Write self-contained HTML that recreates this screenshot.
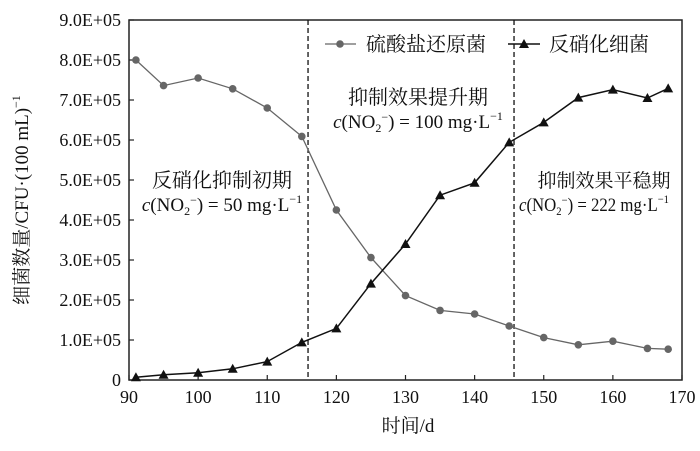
<!DOCTYPE html>
<html><head><meta charset="utf-8"><style>
html,body{margin:0;padding:0;background:#fff}
svg text{font-family:"Liberation Serif","Noto Serif CJK SC",serif;fill:#111}
.cjk{font-family:"Liberation Serif","Noto Serif CJK SC","Noto Sans CJK SC",serif}
</style></head><body>
<svg id="chart" width="700" height="446" viewBox="0 0 700 446" xmlns="http://www.w3.org/2000/svg">
<g id="axes"></g><g id="marks"></g><g id="labels"></g>
</svg>
<script>
const days = [91,95,100,105,110,115,120,125,130,135,140,145,150,155,160,165,168];
const srbValues = [8.0,7.36,7.55,7.28,6.80,6.09,4.25,3.06,2.11,1.74,1.65,1.35,1.06,0.88,0.97,0.79,0.77];
const dnbValues = [0.07,0.13,0.18,0.28,0.46,0.94,1.29,2.41,3.40,4.62,4.93,5.94,6.44,7.06,7.26,7.05,7.29];
const xTicks = [90,100,110,120,130,140,150,160,170];
const yTicks = [0,1,2,3,4,5,6,7,8,9];
const yTickLabels = ["0","1.0E+05","2.0E+05","3.0E+05","4.0E+05","5.0E+05","6.0E+05","7.0E+05","8.0E+05","9.0E+05"];
const phaseBounds = [115.9,145.7];

const L=129,R=682,T=20,B=380;
const xs=d=>L+(d-90)/(170-90)*(R-L);
const ys=v=>B-v/9*(B-T);
const NS="http://www.w3.org/2000/svg";
function mk(tag,attrs,parent,text){const e=document.createElementNS(NS,tag);for(const k in attrs)e.setAttribute(k,attrs[k]);if(text!==undefined)e.textContent=text;parent.appendChild(e);return e;}
const axes=document.getElementById('axes'),marks=document.getElementById('marks'),labels=document.getElementById('labels');

let frame=mk('rect',{x:L,y:T,width:R-L,height:B-T,fill:'none',stroke:'#222','stroke-width':1.5},axes);


xTicks.forEach(t=>{
  let ln=mk('line',{x1:xs(t),x2:xs(t),y1:B,y2:B-5,stroke:'#222','stroke-width':1.2},axes);
  
  
  let tx=mk('text',{x:xs(t),y:B+23,'text-anchor':'middle','font-size':18},axes,String(t));
  
  
});
yTicks.forEach((t,i)=>{
  let ln=mk('line',{x1:L,x2:L+5,y1:ys(t),y2:ys(t),stroke:'#222','stroke-width':1.2},axes);
  
  
  let tx=mk('text',{x:L-8,y:ys(t)+6,'text-anchor':'end','font-size':18},axes,yTickLabels[i]);
  
  
});
phaseBounds.forEach(p=>{
  let ln=mk('line',{x1:xs(p),x2:xs(p),y1:T,y2:B,stroke:'#111','stroke-width':1.3,'stroke-dasharray':'5,3'},axes);
  
  
});

let p1=mk('polyline',{points:days.map((d,i)=>xs(d)+','+ys(srbValues[i])).join(' '),fill:'none',stroke:'#666','stroke-width':1.3},marks);


days.forEach((d,i)=>{
  let c=mk('circle',{cx:xs(d),cy:ys(srbValues[i]),r:3.8,fill:'#666'},marks);
  
  
});
let p2=mk('polyline',{points:days.map((d,i)=>xs(d)+','+ys(dnbValues[i])).join(' '),fill:'none',stroke:'#111','stroke-width':1.5},marks);


function tri(x,y,s){return `${x},${y-s} ${x-s},${y+s*0.8} ${x+s},${y+s*0.8}`;}
days.forEach((d,i)=>{
  let t=mk('polygon',{points:tri(xs(d),ys(dnbValues[i]),5),fill:'#111'},marks);
  
  
});
</script>
<div style="position:absolute;left:0;top:0;width:700px;height:446px;pointer-events:none">
<svg width="700" height="446" xmlns="http://www.w3.org/2000/svg" style="position:absolute;left:0;top:0">
  <g>
    <line x1="325" y1="44" x2="356" y2="44" stroke="#666" stroke-width="1.3"/>
    <circle cx="340" cy="44" r="3.8" fill="#666"/>
    <text class="cjk" x="366" y="51" font-size="20">硫酸盐还原菌</text>
    <line x1="508" y1="44" x2="540" y2="44" stroke="#111" stroke-width="1.5"/>
    <polygon points="524,39 519,48 529,48" fill="#111"/>
    <text class="cjk" x="549" y="51" font-size="20">反硝化细菌</text>
  </g>
  <text class="cjk" x="222" y="187" font-size="20" text-anchor="middle">反硝化抑制初期</text>
  <text x="222" y="211" font-size="19" text-anchor="middle"><tspan font-style="italic">c</tspan>(NO<tspan font-size="12" dy="4">2</tspan><tspan font-size="12" dy="-11">−</tspan><tspan dy="7">) = 50 mg·L</tspan><tspan font-size="12" dy="-8">−1</tspan></text>
  <text class="cjk" x="418" y="104" font-size="20" text-anchor="middle">抑制效果提升期</text>
  <text x="418" y="128" font-size="19" text-anchor="middle"><tspan font-style="italic">c</tspan>(NO<tspan font-size="12" dy="4">2</tspan><tspan font-size="12" dy="-11">−</tspan><tspan dy="7">) = 100 mg·L</tspan><tspan font-size="12" dy="-8">−1</tspan></text>
  <text class="cjk" x="604" y="187" font-size="19" text-anchor="middle">抑制效果平稳期</text>
  <text x="594" y="211" font-size="19" textLength="150" lengthAdjust="spacingAndGlyphs" text-anchor="middle"><tspan font-style="italic">c</tspan>(NO<tspan font-size="12" dy="4">2</tspan><tspan font-size="12" dy="-11">−</tspan><tspan dy="7">) = 222 mg·L</tspan><tspan font-size="12" dy="-8">−1</tspan></text>
  <text class="cjk" x="408" y="432" font-size="19" text-anchor="middle">时间/d</text>
  <text class="cjk" transform="translate(28,200) rotate(-90)" font-size="19" text-anchor="middle">细菌数量/CFU·(100 mL)<tspan font-size="12" dy="-8">−1</tspan></text>
</svg>
</div>
</body></html>
